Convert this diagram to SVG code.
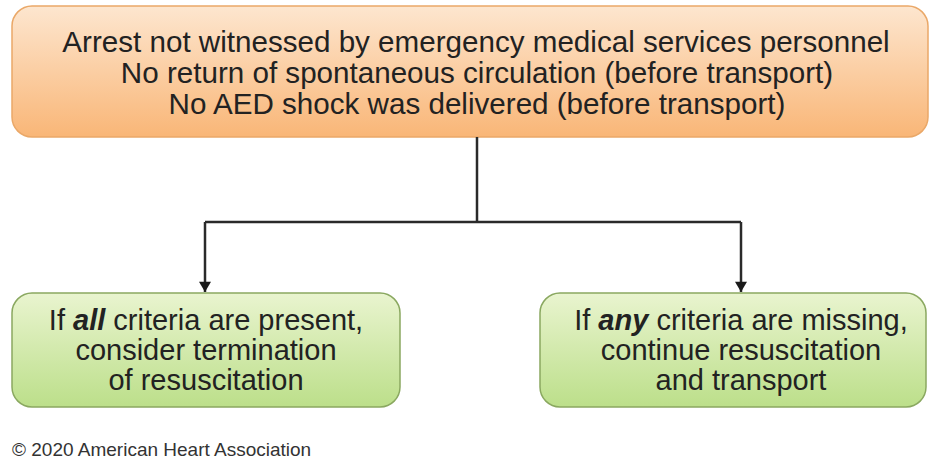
<svg xmlns="http://www.w3.org/2000/svg" width="935" height="463" viewBox="0 0 935 463">
<defs>
<linearGradient id="gOrange" x1="0" y1="0" x2="0" y2="1">
<stop offset="0" stop-color="#fde6cf"/>
<stop offset="1" stop-color="#f9b677"/>
</linearGradient>
<linearGradient id="gGreen" x1="0" y1="0" x2="0" y2="1">
<stop offset="0" stop-color="#e9f4cf"/>
<stop offset="1" stop-color="#bcdf8a"/>
</linearGradient>
<marker id="arrow" viewBox="0 0 12 14" refX="12" refY="7" markerWidth="14" markerHeight="12" markerUnits="userSpaceOnUse" orient="auto">
<path d="M0,0 L12,7 L0,14 z" fill="#1a1a1a"/>
</marker>
</defs>
<style>
.txt{font-family:"Liberation Sans",Arial,sans-serif;fill:#222;text-anchor:middle}
.top{font-size:29.6px}
.grn{font-size:29px}
.conn{fill:none;stroke:#2a2a2a;stroke-width:2.5}
.copy{font-family:"Liberation Sans",Arial,sans-serif;font-size:19px;fill:#333}
</style>
<rect width="935" height="463" fill="#ffffff"/>
<g id="node-criteria">
<rect x="12" y="6" width="916" height="131" rx="20" fill="url(#gOrange)" stroke="#eaa868" stroke-width="1.5"/>
<text class="txt top" x="476" y="52">Arrest not witnessed by emergency medical services personnel</text>
<text class="txt top" x="477" y="83">No return of spontaneous circulation (before transport)</text>
<text class="txt top" x="477" y="114">No AED shock was delivered (before transport)</text>
</g>
<g id="node-terminate">
<rect x="12" y="293" width="388" height="114" rx="20" fill="url(#gGreen)" stroke="#8aa860" stroke-width="1.5"/>
<text class="txt grn" x="206" y="330">If <tspan font-weight="bold" font-style="italic">all</tspan> criteria are present,</text>
<text class="txt grn" x="206" y="360">consider termination</text>
<text class="txt grn" x="206" y="390">of resuscitation</text>
</g>
<g id="node-continue">
<rect x="540" y="293" width="386" height="114" rx="20" fill="url(#gGreen)" stroke="#8aa860" stroke-width="1.5"/>
<text class="txt grn" x="741" y="330">If <tspan font-weight="bold" font-style="italic">any</tspan> criteria are missing,</text>
<text class="txt grn" x="741" y="360">continue resuscitation</text>
<text class="txt grn" x="741" y="390">and transport</text>
</g>
<g id="connectors">
<path class="conn" d="M477,137 V222"/>
<path class="conn" d="M205,222 H741"/>
<path class="conn" d="M205,222 V292" marker-end="url(#arrow)"/>
<path class="conn" d="M741,222 V292" marker-end="url(#arrow)"/>
</g>
<text class="copy" x="12" y="456">© 2020 American Heart Association</text>
</svg>
